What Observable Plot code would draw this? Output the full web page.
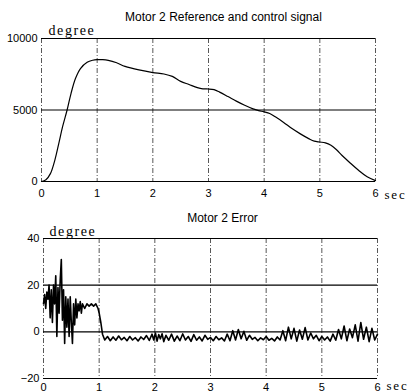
<!DOCTYPE html>
<html><head><meta charset="utf-8">
<script src="https://cdn.jsdelivr.net/npm/d3@7"></script>
<script src="https://cdn.jsdelivr.net/npm/@observablehq/plot@0.6"></script>
<style>
body{margin:0;background:#fff;}
#wrap{width:410px;height:392px;overflow:hidden;}
svg{overflow:visible;}
</style></head><body><div id="wrap"></div>
<script>
// ---- data ----
const title1 = "Motor 2 Reference and control signal";
const title2 = "Motor 2 Error";
const yUnit = "degree";
const xUnit = "sec";
const xTicks = [0, 1, 2, 3, 4, 5, 6];
const yTicks1 = [0, 5000, 10000];
const yTicks2 = [-20, 0, 20, 40];

const posT = [0, 0.08, 0.16, 0.24, 0.31, 0.38, 0.46, 0.53, 0.61, 0.7, 0.82, 0.92, 1.0, 1.1, 1.2, 1.35, 1.5, 1.75, 2.0, 2.2, 2.35, 2.5, 2.65, 2.8, 2.9, 3.0, 3.1, 3.2, 3.35, 3.5, 3.65, 3.8, 3.9, 4.0, 4.1, 4.2, 4.35, 4.5, 4.65, 4.8, 4.9, 5.0, 5.1, 5.2, 5.3, 5.4, 5.55, 5.7, 5.85, 6.0];
const posV = [0, 120, 550, 1500, 2650, 3850, 5000, 6150, 7200, 7900, 8340, 8480, 8520, 8520, 8470, 8300, 8050, 7800, 7620, 7520, 7350, 7000, 6780, 6560, 6480, 6470, 6420, 6250, 5940, 5620, 5330, 5080, 4960, 4870, 4750, 4520, 4130, 3700, 3330, 3000, 2820, 2760, 2700, 2530, 2220, 1820, 1280, 770, 330, 60];

const errT = [0.00, 0.02, 0.04, 0.06, 0.08, 0.10, 0.12, 0.14, 0.16, 0.18, 0.20, 0.22, 0.24, 0.26, 0.28, 0.30, 0.32, 0.34, 0.36, 0.38, 0.40, 0.42, 0.44, 0.46, 0.48, 0.50, 0.52, 0.54, 0.56, 0.58, 0.60, 0.62, 0.64, 0.66, 0.68, 0.70, 0.74, 0.78, 0.82, 0.86, 0.90, 0.94, 0.98, 1.00, 1.03, 1.06,
  1.10, 1.15, 1.20, 1.25, 1.30, 1.35, 1.40, 1.45, 1.50, 1.55, 1.60, 1.65, 1.70, 1.75, 1.80, 1.85, 1.90, 1.95, 1.98, 2.01, 2.04, 2.07, 2.10, 2.13, 2.16, 2.20, 2.25, 2.30, 2.35, 2.40, 2.45, 2.50, 2.55, 2.60, 2.65, 2.70, 2.75, 2.80, 2.85, 2.90, 2.95, 3.00, 3.05, 3.10, 3.15, 3.20, 3.25, 3.30, 3.35, 3.40, 3.45, 3.50, 3.55, 3.60, 3.65, 3.70, 3.75, 3.80, 3.85, 3.90, 3.95, 4.00, 4.05, 4.10, 4.15, 4.20, 4.25, 4.30, 4.35, 4.40, 4.45, 4.50, 4.55, 4.60, 4.65, 4.70, 4.75, 4.80, 4.85, 4.90, 4.95, 5.00, 5.05, 5.10, 5.15, 5.20, 5.25, 5.30, 5.35, 5.40, 5.45, 5.50, 5.55, 5.60, 5.65, 5.70, 5.75, 5.80, 5.85, 5.90, 5.95, 6.00];
const errV = [12, 16, 10, 17, 14, 20, 6, 18, 4, 20, 12, 24, -2, 19, 8, 22, 31, 5, 18, -5, 15, 2, 14, -2, 15, 4, -5, 12, 3, 14, 6, 12, 9, 13, 8, 12, 10, 12, 11, 12, 11, 12, 10, 8, 4, -1,
  -3.5, -2.0, -3.8, -2.2, -3.6, -1.8, -3.4, -2.4, -3.8, -2.0, -3.5, -2.5, -3.9, -2.2, -3.3, -1.6, -3.7, -1.0, -3.5, -0.5, -4.0, -1.2, -3.0, -0.8, -4.2, -1.5, -3.6, -1.0, -4.0, -1.8, -3.8, -0.9, -3.5, -2.0, -4.1, -1.2, -3.6, -2.2, -3.9, -1.5, -3.2, -2.4, -3.8, -2.0, -3.4, -2.6, -3.9, -1.0, -3.8, 0.5, -3.5, 1.0, -3.0, 0.2, -3.6, -1.5, -3.2, -2.4, -3.8, -2.6, -3.4, -2.0, -3.6, -2.8, -3.9, -2.2, -3.5, 0.5, -3.8, 2.0, -3.0, 1.5, -4.0, 0.8, -3.2, 1.8, -3.5, -0.5, -3.0, -1.5, -3.8, -2.0, -3.5, -2.2, -4.0, -1.0, -3.6, 1.0, -3.0, 2.5, -3.8, 1.2, -2.5, 3.0, -4.0, 4.0, -3.2, 2.0, -4.2, 1.5, -3.5, -1.0];

const pos = posT.map((t, i) => ({t, v: posV[i]}));
const err = errT.map((t, i) => ({t, v: errV[i]}));

const fmt = d3.format("d");
const sans = "Liberation Sans, Arial, sans-serif";
const serif = "Liberation Serif, Times New Roman, serif";

function panel({data, yDomain, yTicks, title, height, mt, mb, ml, mr, titleDx, titleDy, degDx, degDy, secDy, xPad, curve, lineW}) {
  const svg = Plot.plot({
    width: 410, height,
    marginTop: mt, marginBottom: mb, marginLeft: ml, marginRight: mr,
    style: {fontFamily: sans, fontSize: "11px", color: "#000", background: "#fff"},
    x: {domain: [0, 6], ticks: xTicks, tickSize: 0, tickPadding: xPad, tickFormat: fmt, label: null},
    y: {domain: yDomain, ticks: yTicks, tickSize: 0, tickPadding: 4, tickFormat: fmt, label: null},
    marks: [
      Plot.ruleX(xTicks, {stroke: "#444", strokeWidth: 0.9, strokeDasharray: "5,2,1,2"}),
      Plot.ruleY(yTicks, {stroke: "#000", strokeWidth: 1.2}),
      Plot.line(data, {x: "t", y: "v", stroke: "#000", strokeWidth: lineW, curve}),
      Plot.text([title], {frameAnchor: "top", lineAnchor: "bottom", dx: titleDx, dy: titleDy, fontSize: 12, fontFamily: sans}),
      Plot.text([yUnit], {frameAnchor: "top-left", textAnchor: "start", lineAnchor: "bottom", dx: degDx, dy: degDy, fontSize: 14, fontFamily: serif}),
      Plot.text([xUnit], {x: 6, y: yDomain[0], textAnchor: "start", lineAnchor: "middle", dx: 9, dy: secDy, fontSize: 13, fontFamily: serif})
    ]
  });
  svg.querySelectorAll("text").forEach(t => {
    if (t.textContent === yUnit) t.setAttribute("letter-spacing", "1.6");
    if (t.textContent === xUnit) t.setAttribute("letter-spacing", "1.8");
  });
  return svg;
}

const wrap = document.getElementById("wrap");
wrap.append(panel({data: pos, yDomain: [0, 10000], yTicks: yTicks1, title: title1,
  height: 202, mt: 38, mb: 21, ml: 41, mr: 35, titleDx: 15, titleDy: -18, degDx: 7, degDy: -4, secDy: 13, xPad: 8, curve: "catmull-rom", lineW: 1.2}));
wrap.append(panel({data: err, yDomain: [-20, 40], yTicks: yTicks2, title: title2,
  height: 190, mt: 36, mb: 14, ml: 43, mr: 33, titleDx: 12, titleDy: -17, degDx: 6, degDy: -3, secDy: 7, xPad: 5, curve: "linear", lineW: 1.6}));
</script></body></html>
